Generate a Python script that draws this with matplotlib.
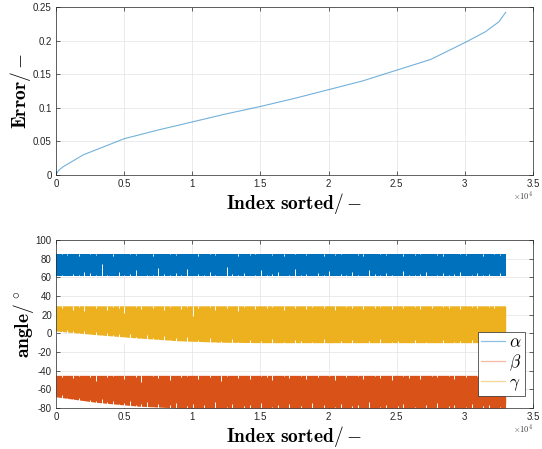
import numpy as np
import matplotlib.pyplot as plt
from matplotlib.lines import Line2D
from matplotlib.ticker import FuncFormatter

plt.rcParams['mathtext.fontset'] = 'cm'
plt.rcParams['axes.unicode_minus'] = False
plt.rcParams['font.family'] = 'Liberation Sans'

# sorted error curve (index, error)
err_idx = [0, 100, 200, 500, 1000, 2000, 3000, 5000, 7500, 10000, 12500, 15000,
           17500, 20000, 22500, 25000, 27500, 30000, 31500, 32500, 33000]
err_val = [0, 0.004, 0.007, 0.012, 0.018, 0.030, 0.038, 0.054, 0.067, 0.079, 0.091,
           0.102, 0.114, 0.127, 0.140, 0.156, 0.172, 0.197, 0.213, 0.228, 0.242]

# angle bands: outer envelope of each series along the index axis
n_idx = 33000
edge_idx = [0, 3000, 6000, 9000, 12000, 15000, 18000, 21000, 24000, 27000, 30000, 33000]
alpha_top = [85.5, 85.5, 85.5, 85.5, 85.5, 85.5, 85.5, 85.5, 85.5, 85.5, 85.5, 85.5]
alpha_bot = [61, 61, 61, 61, 61, 61, 61, 61, 61, 61, 61, 61]
gamma_top = [29.5, 29.5, 29.5, 29.5, 29.5, 29.5, 29.5, 29.5, 29.5, 29.5, 29.5, 29.5]
gamma_bot = [2.5, -1.5, -5, -8, -9.5, -10, -10, -10, -10, -10, -10, -10]
beta_top = [-45, -45, -45, -45, -45, -45, -45, -45, -45, -45, -45, -45]
beta_bot = [-68, -74, -78, -80, -80, -80, -80, -80, -80, -80, -80, -80]

# local extremes that fall short of the envelope (the white spikes)
alpha_hi = [85, 86, 84, 85, 83, 85, 86, 84, 85, 85, 83, 85, 85, 86, 84, 85, 85, 83, 85, 85,
            86, 84, 85, 85, 85, 83, 85, 86, 84, 85, 85, 85, 83, 85, 84, 86, 85, 85, 84, 85,
            83, 85, 86, 85, 84, 85, 85, 83, 85, 84, 86, 85, 85, 84, 83, 85, 85, 86, 84, 85,
            85, 83, 85, 84, 86, 85, 85, 84, 83, 85, 85, 86, 84, 85, 85, 83, 85, 86, 84, 85]
alpha_lo = [61, 63, 61, 64, 62, 66, 65, 62, 74, 63, 61, 66, 62, 64, 68, 61, 63, 62, 70, 64,
            62, 65, 63, 69, 61, 64, 62, 66, 63, 61, 71, 64, 62, 65, 61, 63, 68, 62, 64, 66,
            61, 63, 69, 62, 64, 61, 65, 63, 67, 61, 64, 62, 66, 63, 61, 68, 64, 62, 65, 63,
            61, 67, 63, 62, 64, 66, 61, 63, 65, 62, 64, 66, 61, 63, 65, 62, 64, 61, 65, 63]
gamma_hi = [29, 27, 29, 25, 28, 24, 29, 27, 29, 25, 28, 27, 22, 29, 28, 26, 29, 27, 29, 25,
            28, 29, 26, 28, 19, 27, 29, 28, 25, 29, 27, 29, 24, 28, 29, 26, 29, 27, 28, 29,
            25, 29, 27, 29, 26, 28, 29, 27, 29, 25, 29, 28, 27, 29, 26, 29, 27, 28, 29, 26,
            29, 27, 29, 28, 26, 29, 27, 29, 28, 27, 29, 26, 29, 28, 27, 29, 28, 27, 29, 28]
gamma_lo = [3, 2, 4, 2, 0, 3, -1, 1, -2, 0, -2, -1, -4, -1, -4, -5, -2, -5, -6, -3,
            -7, -5, -8, -4, -9, -7, -9, -5, -9, -8, -10, -6, -9, -10, -7, -10, -8, -10, -6, -10,
            -9, -10, -7, -8, -10, -9, -10, -6, -10, -10, -8, -10, -7, -10, -10, -8, -10, -6, -10, -9,
            -8, -10, -10, -7, -10, -9, -10, -10, -7, -10, -9, -8, -10, -7, -10, -10, -8, -10, -9, -8]
beta_hi = [-45, -47, -45, -48, -46, -45, -47, -51, -45, -47, -46, -45, -49, -45, -47, -52, -45, -46, -48, -45,
           -50, -45, -47, -46, -45, -49, -45, -47, -45, -51, -46, -45, -48, -45, -49, -45, -46, -47, -50, -45,
           -46, -48, -45, -46, -49, -45, -47, -45, -46, -50, -45, -47, -45, -46, -49, -45, -46, -48, -45, -50,
           -45, -46, -48, -45, -49, -45, -46, -47, -45, -46, -49, -45, -47, -45, -46, -50, -45, -47, -45, -46]
beta_lo = [-68, -66, -69, -70, -69, -72, -71, -73, -70, -74, -72, -76, -75, -73, -77, -76, -74, -79, -76, -80,
           -77, -75, -80, -78, -76, -80, -77, -80, -74, -80, -79, -76, -80, -78, -77, -80, -75, -80, -79, -77,
           -80, -76, -80, -78, -80, -75, -80, -77, -80, -79, -76, -80, -78, -77, -80, -74, -80, -79, -77, -80,
           -78, -76, -80, -79, -80, -77, -80, -75, -80, -78, -77, -80, -79, -76, -80, -78, -77, -80, -79, -76]
labels = [r'$\alpha$', r'$\beta$', r'$\gamma$']
colors = ['#0072BD', '#D95319', '#EDB120']
legend_colors = ['#8fc0e4', '#f3b9a2', '#f5d693']

spike_idx = np.linspace(0, n_idx, len(alpha_hi))


def style(ax):
    ax.set_xlim(0, 35000)
    ax.set_xticks(np.arange(0, 35001, 5000))
    ax.xaxis.set_major_formatter(FuncFormatter(lambda v, p: f'{v / 1e4:g}'))
    ax.yaxis.set_major_formatter(FuncFormatter(lambda v, p: f'{v:g}'))
    ax.tick_params(direction='in', length=3, width=0.5, top=True, right=True,
                   labelsize=7, colors='#262626', pad=3)
    ax.grid(True, color='#e3e3e3', lw=0.5)
    ax.set_axisbelow(True)
    for s in ax.spines.values():
        s.set_color('#262626')
        s.set_linewidth(0.5)
    ax.text(1.0, -0.085, r'$\times 10^4$', transform=ax.transAxes, ha='right', va='top',
            fontsize=6, color='#404040')
    ax.set_xlabel(r'$\mathbf{Index\ sorted}/-$', fontsize=14, labelpad=1)


fig = plt.figure(figsize=(5.42, 4.49), dpi=100)
ax1 = fig.add_axes([0.1033, 0.6102, 0.880, 0.3742])
ax2 = fig.add_axes([0.1033, 0.0913, 0.880, 0.3742])

ax1.plot(err_idx, err_val, color='#0072BD', lw=0.8, alpha=0.55)
ax1.set_ylim(0, 0.25)
ax1.set_yticks(np.arange(0, 0.251, 0.05))
style(ax1)
ax1.set_ylabel(r'$\mathbf{Error}/-$', fontsize=14, labelpad=0)

bands = [(alpha_top, alpha_bot, alpha_hi, alpha_lo, colors[0]),
         (beta_top, beta_bot, beta_hi, beta_lo, colors[1]),
         (gamma_top, gamma_bot, gamma_hi, gamma_lo, colors[2])]
for top, bot, hi, lo, c in bands:
    ax2.fill_between(edge_idx, bot, top, color=c, lw=0, zorder=1)
    ax2.vlines(spike_idx, max(top), hi, color='white', lw=0.7, zorder=2)
    ax2.vlines(spike_idx, min(bot), lo, color='white', lw=0.7, zorder=2)
ax2.set_ylim(-80, 100)
ax2.set_yticks(np.arange(-80, 101, 20))
style(ax2)
ax2.set_ylabel(r'$\mathbf{angle}/^\circ$', fontsize=14, labelpad=0)

handles = [Line2D([], [], color=c, lw=0.9) for c in legend_colors]
leg = ax2.legend(handles, labels, loc='lower right', bbox_to_anchor=(0.983, 0.07),
                 borderaxespad=0, fontsize=12.5, fancybox=False, framealpha=1,
                 edgecolor='#262626', labelspacing=0.12, handlelength=1.4,
                 handletextpad=0.2, borderpad=0.2)
leg.get_frame().set_linewidth(0.5)
leg.set_zorder(5)

fig.savefig('out.png', dpi=100)
